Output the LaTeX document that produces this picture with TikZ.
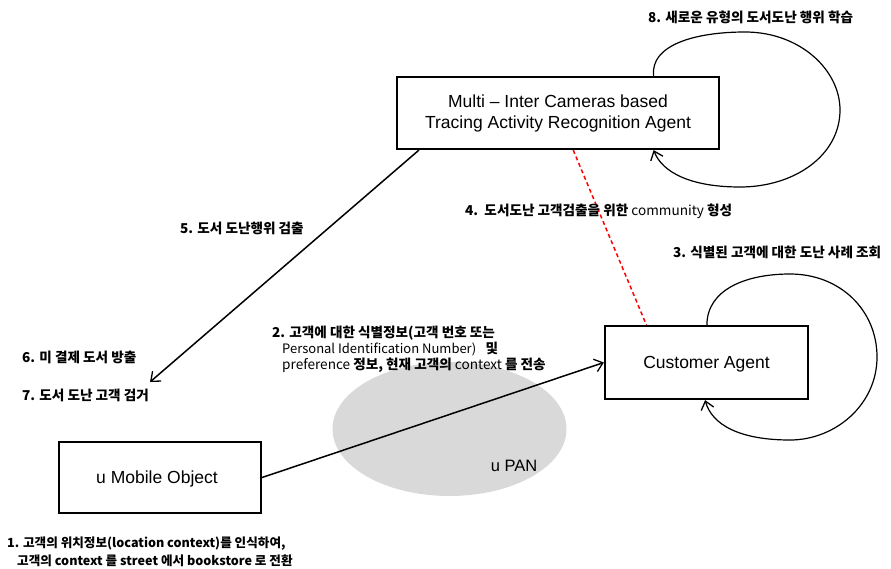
\documentclass[tikz,border=0pt]{standalone}
\usepackage{fontspec}
\setmainfont{Liberation Sans}
\newfontfamily\kr{Noto Sans CJK KR}
\usetikzlibrary{arrows.meta,calc,shapes.geometric}
\begin{document}
\begin{tikzpicture}[x=1pt,y=-1pt,
  agentbox/.style={draw,line width=2.2pt,inner sep=0pt},
  boxtext/.style={font=\fontsize{17.5}{21}\selectfont,align=center},
  lbl/.style={font=\kr\bfseries\fontsize{13.6}{16}\selectfont,inner sep=0pt,anchor=west},
  lblsmall/.style={font=\kr\bfseries\fontsize{12.6}{15}\selectfont,inner sep=0pt,anchor=west},
  conn/.style={line width=1.5pt},
  loopline/.style={line width=1.2pt},
  tip/.style={-{Straight Barb[length=8pt,width=13pt,line width=1.3pt]}}
]
\useasboundingbox (0,0) rectangle (891,568);
% u PAN ellipse
\node[ellipse,fill=black!15,minimum width=234pt,minimum height=134pt,inner sep=0pt] (pan) at (449.5,429) {};
\node[font=\fontsize{16.5}{19}\selectfont,inner sep=0pt] (panlbl) at (514,466) {u PAN};
% boxes
\node[agentbox,minimum width=322pt,minimum height=72pt] (top) at (558,113) {};
\node[boxtext] (toptext) at (558,113) {Multi -- Inter Cameras based\\Tracing Activity Recognition Agent};
\node[agentbox,minimum width=203pt,minimum height=73pt] (cust) at (706.5,362.5) {};
\node[boxtext] (custtext) at (706.5,364) {Customer Agent};
\node[agentbox,minimum width=202pt,minimum height=71pt] (mob) at (160,477.5) {};
\node[boxtext] (mobtext) at (157,479) {u Mobile Object};
% connectors
\coordinate (end5) at (150,382);
\draw[conn,tip] ($(top.south west)!0.071!(top.south east)$) -- (end5);
\draw[conn,red,dashed,dash pattern=on 4pt off 3pt] ($(top.south west)!0.547!(top.south east)$) -- ($(cust.north west)!0.207!(cust.north east)$);
\draw[conn,tip] (mob.east) -- (cust.west);
% loops
\coordinate (ta) at ($(top.north west)!0.795!(top.north east)$);
\coordinate (tb) at ($(top.south west)!0.795!(top.south east)$);
\draw[loopline,tip] (ta) .. controls (650,45) and (695,32) .. (745,32)
  .. controls (800,32) and (840,70) .. (840,110)
  .. controls (840,155) and (795,187) .. (740,187)
  .. controls (690,187) and (662,172) .. (tb);
\coordinate (ca) at ($(cust.north west)!0.502!(cust.north east)$);
\coordinate (cb) at ($(cust.south west)!0.493!(cust.south east)$);
\draw[loopline,tip] (ca) .. controls (707,290) and (745,274) .. (790,274)
  .. controls (840,274) and (877,310) .. (877,357)
  .. controls (877,405) and (835,440) .. (790,440)
  .. controls (740,440) and (712,425) .. (cb);
% labels
\node[lbl] (l8) at (648,17) {8. 새로운 유형의 도서도난 행위 학습};
\node[lbl] (l5) at (180,228) {5. 도서 도난행위 검출};
\node[lbl] (l4) at (465,211) {4.\ \ 도서도난 고객검출을 위한 \mdseries community \bfseries 형성};
\node[lbl] (l3) at (673,252) {3. 식별된 고객에 대한 도난 사례 조회};
\node[lbl] (l2a) at (272,333) {2. 고객에 대한 식별정보(고객 번호 또는};
\node[lbl] (l2b) at (282,349) {{\mdseries\fontsize{13}{15}\selectfont Personal Identification Number)}\ \ \ 및};
\node[lbl] (l2c) at (282,365) {\mdseries preference \bfseries 정보, 현재 고객의 \mdseries context \bfseries 를 전송};
\node[lbl] (l6) at (22,357) {6. 미 결제 도서 방출};
\node[lbl] (l7) at (22,395) {7. 도서 도난 고객 검거};
\node[lblsmall] (l1a) at (7,544) {1. 고객의 위치정보(location context)를 인식하여,};
\node[lblsmall] (l1b) at (17,561) {고객의 context 를 street 에서 bookstore 로 전환};
\end{tikzpicture}
\end{document}
